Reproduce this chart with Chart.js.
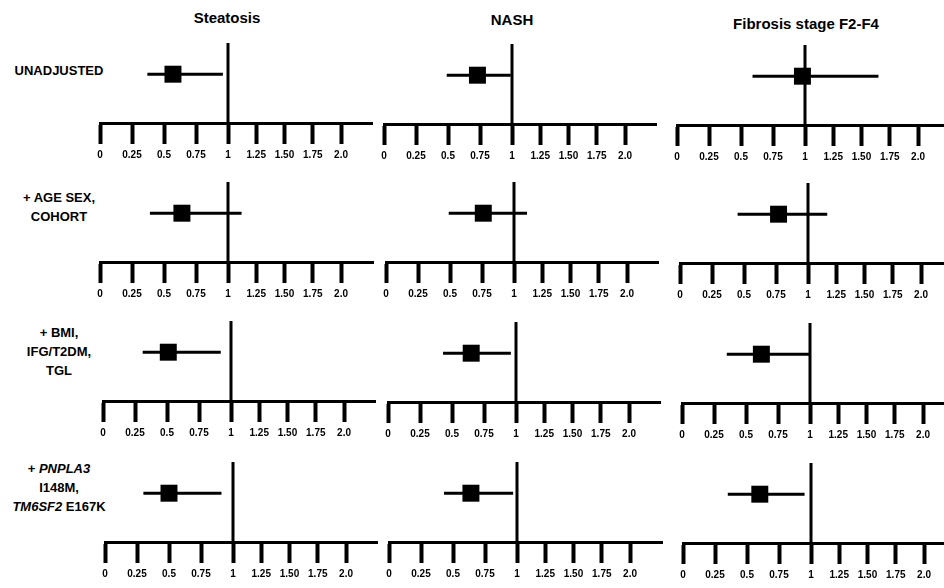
<!DOCTYPE html>
<html>
<head>
<meta charset="utf-8">
<script src="https://cdn.jsdelivr.net/npm/chart.js@4.4.1/dist/chart.umd.min.js"></script>
<style>
  html, body { margin: 0; padding: 0; background: #fff; }
  body { width: 944px; height: 588px; position: relative; overflow: hidden; font-family: 'Liberation Sans', Arial, sans-serif; color: #000; }
  .title { position: absolute; font-weight: bold; font-size: 15px; transform: translate(-50%, -50%); white-space: nowrap; }
  .rowlab { position: absolute; left: 0; width: 118px; text-align: center; font-weight: bold; font-size: 13px; line-height: 19px; white-space: nowrap; }
  canvas { position: absolute; }
</style>
</head>
<body>
<script>
// データ
const columns = ['Steatosis', 'NASH', 'Fibrosis stage F2-F4'];
const rowLabels = [
  'UNADJUSTED',
  '+ AGE SEX,<br>COHORT',
  '+ BMI,<br>IFG/T2DM,<br>TGL',
  '+ <i>PNPLA3</i><br>I148M,<br><i>TM6SF2</i> E167K'
];
const tickValues = [0, 0.25, 0.5, 0.75, 1, 1.25, 1.5, 1.75, 2.0];
const tickLabels = ['0', '0.25', '0.5', '0.75', '1', '1.25', '1.50', '1.75', '2.0'];

// 点推定と信頼区間（行ごと）
const steatosisOR = [0.57, 0.64, 0.51, 0.50];
const steatosisLo = [0.37, 0.39, 0.31, 0.30];
const steatosisHi = [0.96, 1.12, 0.92, 0.91];

const nashOR = [0.73, 0.76, 0.65, 0.64];
const nashLo = [0.49, 0.49, 0.43, 0.43];
const nashHi = [0.99, 1.115, 0.96, 0.97];

const fibrosisOR = [0.98, 0.77, 0.62, 0.60];
const fibrosisLo = [0.59, 0.45, 0.35, 0.35];
const fibrosisHi = [1.65, 1.17, 1.0, 0.95];

const seriesOR = [steatosisOR, nashOR, fibrosisOR];
const seriesLo = [steatosisLo, nashLo, fibrosisLo];
const seriesHi = [steatosisHi, nashHi, fibrosisHi];

// レイアウト（ピクセル）
const panelX0 = [[100, 384, 677], [100, 386, 680], [103, 388, 682], [105, 389, 683]];
const panelAxisY = [[123, 124, 125], [262, 262, 263], [401, 402, 403], [542, 542, 543]];
const panelAxisEnd = [[372, 656, 950], [373, 658, 950], [375, 660, 950], [377, 662, 950]];
const titlePos = [[227, 17], [512, 19], [806, 23]];
const rowLabelTop = [61, 188, 323, 459];

const UNIT = 128;      // 0〜1 の幅
const BEND = 0.883;    // 1 より右は目盛り間隔が少し狭い
const PLOT_H = 82;     // 縦線の高さ
const CI_LEVEL = 0.61; // 信頼区間の高さ（縦線に対する比）
const PAD_L = 20, PAD_R = 12, PAD_T = 10, AXIS_H = 42;

// 1 より右を縮める軸
class WarpScale extends Chart.LinearScale {
  getPixelForValue(value) {
    const v = value > 1 ? 1 + (value - 1) * BEND : value;
    return super.getPixelForValue(v);
  }
}
WarpScale.id = 'warp';
WarpScale.defaults = Chart.LinearScale.defaults;
Chart.register(WarpScale);

// タイトルと行ラベル
columns.forEach((name, c) => {
  const d = document.createElement('div');
  d.className = 'title';
  d.textContent = name;
  d.style.left = titlePos[c][0] + 'px';
  d.style.top = titlePos[c][1] + 'px';
  document.body.appendChild(d);
});
rowLabels.forEach((html, r) => {
  const d = document.createElement('div');
  d.className = 'rowlab';
  d.innerHTML = html;
  d.style.top = rowLabelTop[r] + 'px';
  document.body.appendChild(d);
});

// パネルを描画
function drawPanel(r, c) {
  const x0 = panelX0[r][c];
  const axisY = panelAxisY[r][c];
  const end = panelAxisEnd[r][c];
  const canvas = document.createElement('canvas');
  const w = end - x0 + PAD_L + PAD_R;
  const h = PAD_T + PLOT_H + AXIS_H;
  canvas.width = w;
  canvas.height = h;
  canvas.style.left = (x0 - PAD_L) + 'px';
  canvas.style.top = (axisY - PLOT_H - PAD_T) + 'px';
  document.body.appendChild(canvas);

  new Chart(canvas.getContext('2d'), {
    type: 'scatter',
    data: {
      datasets: [
        {
          data: [{ x: seriesOR[c][r], y: CI_LEVEL }],
          pointStyle: 'rect',
          pointRadius: 12,
          backgroundColor: '#000',
          borderWidth: 0,
          clip: false
        },
        {
          data: [{ x: seriesLo[c][r], y: CI_LEVEL }, { x: seriesHi[c][r], y: CI_LEVEL }],
          showLine: true,
          borderColor: '#000',
          borderWidth: 3,
          pointRadius: 0,
          clip: false
        },
        {
          data: [{ x: 1, y: 0 }, { x: 1, y: 1 }],
          showLine: true,
          borderColor: '#000',
          borderWidth: 3,
          pointRadius: 0,
          clip: false
        }
      ]
    },
    options: {
      responsive: false,
      animation: false,
      events: [],
      layout: { padding: { left: PAD_L, right: PAD_R, top: PAD_T, bottom: 0 } },
      plugins: { legend: { display: false }, tooltip: { enabled: false } },
      scales: {
        x: {
          type: 'warp',
          min: 0,
          max: (end - x0) / UNIT,
          bounds: 'data',
          afterBuildTicks: scale => { scale.ticks = tickValues.map(v => ({ value: v })); },
          afterFit: scale => { scale.height = AXIS_H; },
          grid: { drawOnChartArea: false, drawTicks: true, tickLength: 21, tickWidth: 4, tickColor: '#000' },
          border: { display: true, width: 3, color: '#000' },
          ticks: {
            callback: (v, i) => tickLabels[i],
            font: { family: "'Liberation Sans', Arial, sans-serif", weight: 'bold', size: 10 },
            color: '#000',
            padding: 5,
            maxRotation: 0,
            autoSkip: false
          }
        },
        y: { type: 'linear', min: 0, max: 1, display: false }
      }
    }
  });
}

for (let r = 0; r < rowLabels.length; r++) {
  for (let c = 0; c < columns.length; c++) {
    drawPanel(r, c);
  }
}
</script>
</body>
</html>
